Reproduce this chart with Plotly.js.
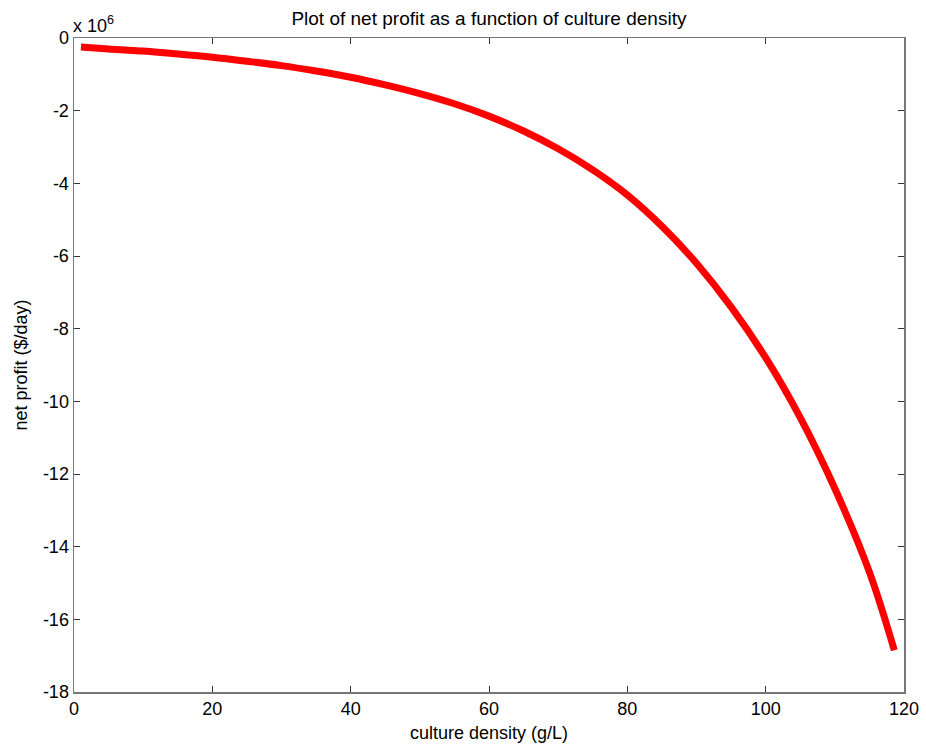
<!DOCTYPE html>
<html>
<head>
<meta charset="utf-8">
<script src="https://cdn.plot.ly/plotly-3.0.1.min.js"></script>
<style>html,body{margin:0;padding:0;background:#fff;}#chart{width:926px;height:748px;}</style>
</head>
<body>
<div id="chart"></div>
<script>
// culture density (g/L)
var density = [1, 5, 10, 15, 20, 25, 30, 35, 40, 45, 50, 55, 60, 65, 70, 75, 80, 85, 90, 95, 100, 105, 110, 115, 118.6];
// net profit in units of 10^6 $/day
var profitMillions = [-0.25, -0.30, -0.36, -0.44, -0.53, -0.64, -0.76, -0.91, -1.08, -1.29, -1.53, -1.81, -2.15, -2.56, -3.05, -3.63, -4.32, -5.18, -6.20, -7.40, -8.80, -10.45, -12.40, -14.70, -16.85];
var xTicks = [0, 20, 40, 60, 80, 100, 120];
var yTicks = [0, -2, -4, -6, -8, -10, -12, -14, -16, -18];
var yTickText = ['0', '-2', '-4', '-6', '-8', '-10', '-12', '-14', '-16', '-18'];

var trace = {
  x: density,
  y: profitMillions,
  type: 'scatter',
  mode: 'lines',
  line: {color: '#ff0000', width: 7, shape: 'spline'},
  hoverinfo: 'skip'
};

var font = {family: 'Liberation Sans, Arial, sans-serif', size: 18, color: '#000'};
var titleFont = {family: 'Liberation Sans, Arial, sans-serif', size: 19, color: '#000'};

var layout = {
  width: 926,
  height: 748,
  margin: {l: 74, r: 22, t: 38, b: 56},
  paper_bgcolor: '#fff',
  plot_bgcolor: '#fff',
  showlegend: false,
  font: font,
  title: {
    text: 'Plot of net profit as a function of culture density',
    font: titleFont,
    x: 0.528, xanchor: 'center',
    y: 0.976, yanchor: 'middle'
  },
  xaxis: {
    range: [0, 120],
    tickvals: xTicks,
    ticktext: xTicks.map(String),
    ticks: 'inside', ticklen: 6, tickcolor: '#333', tickwidth: 1,
    showline: true, linecolor: '#777', linewidth: 1.5, mirror: 'ticks',
    showgrid: false, zeroline: false,
    tickfont: font,
    title: {text: 'culture density (g/L)', font: font, standoff: 8}
  },
  yaxis: {
    range: [-18, 0],
    tickvals: yTicks,
    ticktext: yTickText,
    ticks: 'inside', ticklen: 6, tickcolor: '#333', tickwidth: 1,
    showline: true, linecolor: '#777', linewidth: 1.5, mirror: 'ticks',
    showgrid: false, zeroline: false,
    tickfont: font,
    title: {text: 'net profit ($/day)', font: font, standoff: 10}
  },
  annotations: [{
    text: 'x 10<sup>6</sup>',
    xref: 'paper', yref: 'paper',
    x: -0.004, y: 1.0,
    xanchor: 'left', yanchor: 'bottom',
    showarrow: false,
    font: font
  }]
};

Plotly.newPlot('chart', [trace], layout, {displayModeBar: false, staticPlot: true});
</script>
</body>
</html>
